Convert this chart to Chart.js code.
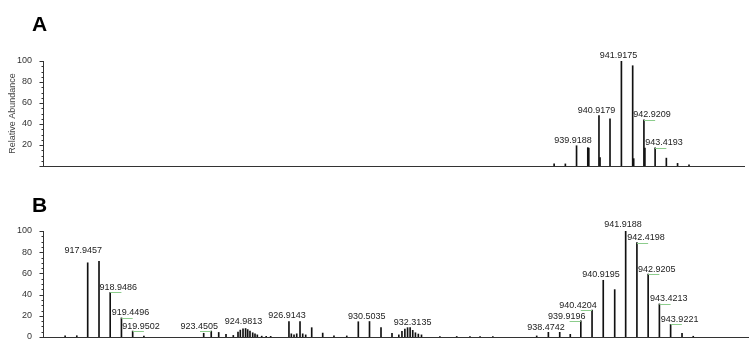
<!DOCTYPE html>
<html>
<head>
<meta charset="utf-8">
<script src="https://cdn.jsdelivr.net/npm/chart.js@4.4.1/dist/chart.umd.min.js"></script>
<style>
  body { margin: 0; background: #fff; }
  canvas { position: absolute; left: 0; }
  #chartA { top: 0; }
  #chartB { top: 172px; }
</style>
</head>
<body>
<canvas id="chartA" width="750" height="172"></canvas>
<canvas id="chartB" width="750" height="172"></canvas>
<script>
// spectrum A (m/z, relative abundance)
const mzA = [938.92, 939.42, 939.9188, 940.42, 940.9179, 941.41, 941.9175, 942.42, 942.9209, 943.4193, 943.92, 944.42, 944.93];
const intA = [2, 2, 19.3, 17.5, 48, 45, 100, 95.5, 44, 17.4, 7.5, 2.5, 1];
// shoulder peaks right next to main ones (make the sticks look thicker)
const mzA2 = [940.465, 940.965, 942.465, 942.965];
const intA2 = [17, 8, 7, 17];
const labelsA = ['939.9188', '940.9179', '941.9175', '942.9209', '943.4193'];

// spectrum B
const mzB = [916.94, 917.46, 917.9457, 918.45, 918.9486, 919.4496, 919.9502, 920.45,
  923.115, 923.4505, 923.784, 924.109, 924.434, 924.644, 924.746, 924.867, 924.9813, 925.076, 925.178, 925.299, 925.401, 925.504,
  925.70, 925.90, 926.10, 926.9143, 927.02, 927.14, 927.26, 927.407, 927.527, 927.66, 927.928, 928.418, 928.92, 929.49,
  930.005, 930.5035, 931.016, 931.506, 931.81, 931.95, 932.08, 932.20, 932.3135, 932.43, 932.55, 932.68, 932.82,
  933.64, 934.39, 934.98, 935.43, 936.0,
  937.954, 938.4742, 938.98, 939.45, 939.9196, 940.4204, 940.9195, 941.43, 941.9188, 942.4198, 942.9205, 943.4213, 943.9221, 944.43, 944.93];
const intB = [1.2, 1.2, 70, 71.5, 42, 18, 5.6, 0.8,
  3.5, 5.6, 4.3, 2.5, 1.5, 4.7, 6.5, 7.8, 8, 7, 5.6, 4, 3, 2,
  0.8, 0.6, 0.6, 14.6, 3, 2, 3, 14.6, 3, 2, 8.8, 3.7, 1, 1,
  14.4, 14.6, 8.8, 3.4, 2, 5.3, 7.5, 8.8, 9, 6.3, 4, 2.8, 2,
  0.5, 0.5, 0.5, 0.5, 0.5,
  1, 4.4, 4.4, 2.5, 15.3, 25.3, 53.5, 44.7, 100, 89, 59.4, 31.2, 11.9, 3.4, 0.7];
const labelsB = ['917.9457', '918.9486', '919.4496', '919.9502', '923.4505', '924.9813', '926.9143', '930.5035', '932.3135',
  '938.4742', '939.9196', '940.4204', '940.9195', '941.9188', '942.4198', '942.9205', '943.4213', '943.9221'];

const yTickLabels = [0, 20, 40, 60, 80, 100];

// label placement nudges (px) relative to the peak top
const nudgeA = { dx: [-3.5, -2.5, -3, 8, 9], dy: [-5, -5, -5, -5, -5] };
const nudgeB = {
  dx: [-4.4, 8, 9, 8.3, -12, -2, -2, -2.7, 2.5, -2.3, -14, -14, -2.3, -2.7, 9, 8.7, 9.3, 9],
  dy: [-12, -5, -5, -5, -5, -7, -6, -5, -5, -5, -4, -5, -6, -6, -5, -5, -5, -5]
};

const FONT = '"Liberation Sans", Arial, sans-serif';

const spectrumDeco = {
  id: 'spectrumDeco',
  afterDatasetsDraw(chart, args, opts) {
    const ctx = chart.ctx;
    const x = chart.scales.x, y = chart.scales.y;
    ctx.save();

    // minor / major ticks on the y axis
    const ax = Math.round(chart.chartArea.left) + 0.5;
    ctx.strokeStyle = '#333';
    ctx.lineWidth = 1;
    y.ticks.forEach(t => {
      const py = Math.round(y.getPixelForValue(t.value)) + 0.5;
      const len = t.value % 20 === 0 ? 4 : 2;
      ctx.beginPath();
      ctx.moveTo(ax - len, py);
      ctx.lineTo(ax, py);
      ctx.stroke();
    });

    // peak labels
    ctx.font = '9px ' + FONT;
    ctx.textAlign = 'center';
    ctx.textBaseline = 'middle';
    opts.labels.forEach((txt, i) => {
      const target = parseFloat(txt);
      let k = 0;
      opts.mz.forEach((m, j) => { if (Math.abs(m - target) < Math.abs(opts.mz[k] - target)) k = j; });
      const px = x.getPixelForValue(opts.mz[k]);
      const py = y.getPixelForValue(opts.ints[k]);
      const dx = opts.dx[i], dy = opts.dy[i];
      if (Math.abs(dx) > 5) {
        const px2 = x.getPixelForValue(opts.mz[k] + Math.sign(dx) * 0.5);
        ctx.strokeStyle = '#8ccc8c';
        ctx.beginPath();
        ctx.moveTo(px, Math.round(py) + 0.5);
        ctx.lineTo(px2, Math.round(py) + 0.5);
        ctx.stroke();
      }
      ctx.fillStyle = '#222';
      ctx.fillText(txt, px + dx, py + dy);
    });

    // panel letter
    ctx.font = 'bold 21px ' + FONT;
    ctx.textAlign = 'left';
    ctx.textBaseline = 'alphabetic';
    ctx.fillStyle = '#000';
    ctx.fillText(opts.letter, 32, opts.letterY);
    ctx.restore();
  }
};

function makePanel(id, cfg) {
  const datasets = [{
    data: cfg.mz.map((m, i) => ({ x: m, y: cfg.ints[i] })),
    backgroundColor: '#111',
    barThickness: 1,
    grouped: false
  }];
  if (cfg.mz2) {
    datasets.push({
      data: cfg.mz2.map((m, i) => ({ x: m, y: cfg.ints2[i] })),
      backgroundColor: '#111',
      barThickness: 1,
      grouped: false
    });
  }
  return new Chart(document.getElementById(id), {
    type: 'bar',
    data: { datasets: datasets },
    options: {
      responsive: false,
      animation: false,
      events: [],
      layout: { padding: cfg.padding },
      plugins: {
        legend: { display: false },
        tooltip: { enabled: false },
        spectrumDeco: {
          mz: cfg.mz, ints: cfg.ints, labels: cfg.labels,
          dx: cfg.nudge.dx, dy: cfg.nudge.dy,
          letter: cfg.letter, letterY: cfg.letterY
        }
      },
      scales: {
        x: {
          type: 'linear',
          min: cfg.xmin,
          max: cfg.xmax,
          offset: false,
          ticks: { display: false },
          grid: { display: false, drawTicks: false },
          border: { display: true, color: '#333', width: 1 },
          afterFit(s) { s.height = 0; }
        },
        y: {
          min: 0,
          max: 100,
          ticks: {
            stepSize: 5,
            autoSkip: false,
            padding: 11,
            color: '#333',
            font: { size: 9, family: FONT },
            callback: v => (yTickLabels.includes(v) && (v > 0 || cfg.showZero)) ? String(v) : ''
          },
          grid: { display: false, drawTicks: false },
          border: { display: true, color: '#333', width: 1 },
          title: {
            display: !!cfg.yTitle,
            text: cfg.yTitle || '',
            color: '#444',
            font: { size: 9, family: FONT },
            padding: { top: 7, bottom: 0 }
          },
          afterFit(s) {
            s.width = 43;
            // don't let the tick labels push the plot area around
            s.paddingTop = 0;
            s.paddingBottom = 0;
          }
        }
      }
    },
    plugins: [spectrumDeco]
  });
}

makePanel('chartA', {
  mz: mzA, ints: intA, mz2: mzA2, ints2: intA2, labels: labelsA, nudge: nudgeA,
  xmin: 916.146, xmax: 947.38,
  padding: { top: 61, bottom: 6, left: 0, right: 6 },
  letter: 'A', letterY: 31, showZero: false, yTitle: 'Relative Abundance'
});

makePanel('chartB', {
  mz: mzB, ints: intB, labels: labelsB, nudge: nudgeB,
  xmin: 915.954, xmax: 947.37,
  padding: { top: 59, bottom: 7, left: 0, right: 2 },
  letter: 'B', letterY: 40, showZero: true
});
</script>
</body>
</html>
